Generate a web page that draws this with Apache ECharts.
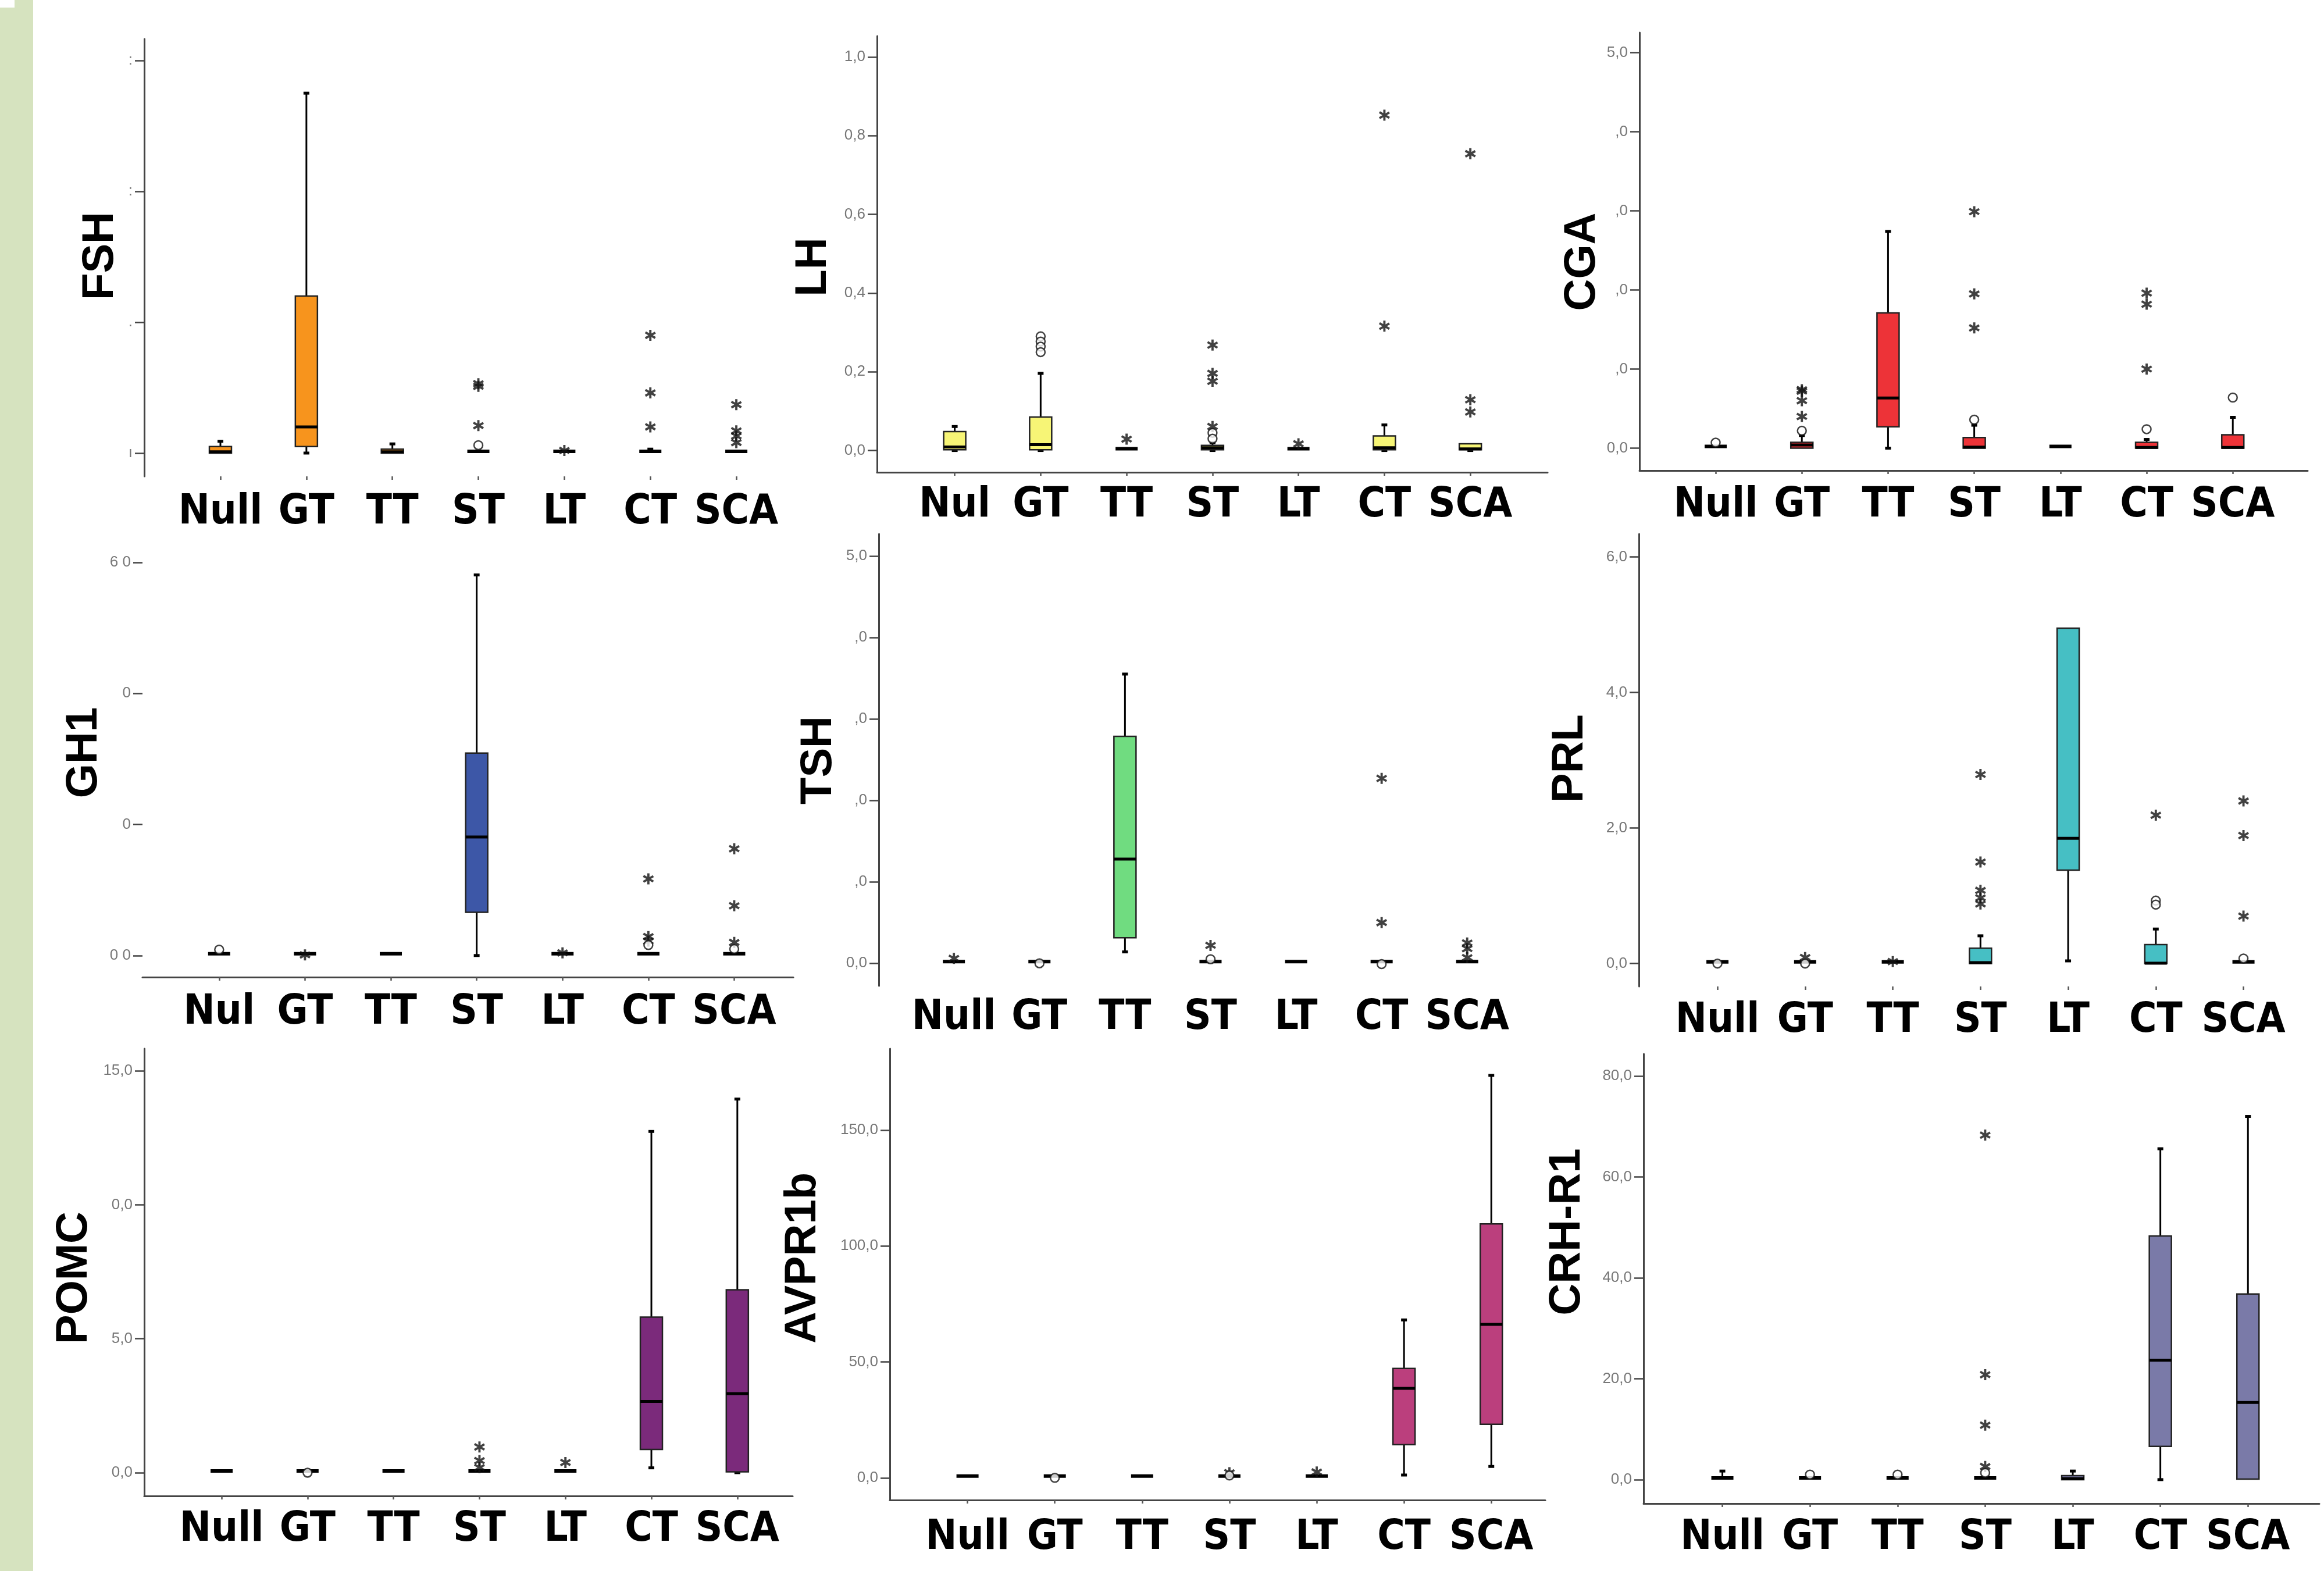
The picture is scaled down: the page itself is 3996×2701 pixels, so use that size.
<!DOCTYPE html>
<html>
<head>
<meta charset="utf-8">
<script src="https://cdn.jsdelivr.net/npm/echarts@6/dist/echarts.min.js"></script>
<style>
  html, body { margin: 0; padding: 0; background: #fff; }
  #chart { width: 3996px; height: 2701px; }
</style>
</head>
<body>
<div id="chart"></div>
<script>
// categories (two panels print "Nul")
var catsNull = ['Null', 'GT', 'TT', 'ST', 'LT', 'CT', 'SCA'];
var catsNul = ['Nul', 'GT', 'TT', 'ST', 'LT', 'CT', 'SCA'];

// each box: [min, q1, median, q3, max]; outliers: [category index, value]
var fshBoxes = [[0, 0, 0.01, 0.05, 0.09], [0, 0.05, 0.2, 1.2, 2.75], [0, 0, 0.01, 0.03, 0.07], [0, 0, 0, 0.012, 0.012],
    [0, 0, 0, 0.01, 0.01], [0, 0, 0, 0.012, 0.03], [0, 0, 0, 0.012, 0.012]];
var fshStars = [[3, 0.21], [3, 0.51], [3, 0.53], [4, 0.02], [5, 0.9], [5, 0.46], [5, 0.2], [6, 0.37], [6, 0.17], [6, 0.13], [6, 0.08]];
var fshCircles = [[3, 0.06]];
var fshTicks = [0, 1, 2, 3];
var fshTickLabels = ['ı', '.', ':', ':'];

var lhBoxes = [[0, 0.002, 0.009, 0.048, 0.061], [0, 0.002, 0.015, 0.085, 0.196], [0, 0, 0.002, 0.004, 0.004], [0, 0.002, 0.007, 0.013, 0.02],
    [0, 0, 0.002, 0.004, 0.004], [0, 0.002, 0.007, 0.037, 0.065], [0, 0.002, 0.004, 0.017, 0.017]];
var lhStars = [[2, 0.029], [3, 0.268], [3, 0.196], [3, 0.176], [3, 0.061], [4, 0.017], [5, 0.852], [5, 0.316], [6, 0.754], [6, 0.129], [6, 0.098]];
var lhCircles = [[1, 0.29], [1, 0.277], [1, 0.264], [1, 0.25], [3, 0.045], [3, 0.03]];
var lhTicks = [0, 0.2, 0.4, 0.6, 0.8, 1.0];
var lhTickLabels = ['0,0', '0,2', '0,4', '0,6', '0,8', '1,0'];

var cgaBoxes = [[0, 0, 0.005, 0.035, 0.035], [0, 0, 0.04, 0.073, 0.16], [0, 0.27, 0.635, 1.71, 2.74], [0, 0, 0.013, 0.134, 0.29],
    [0, 0, 0.01, 0.04, 0.04], [0, 0, 0.01, 0.073, 0.11], [0, 0, 0.01, 0.17, 0.39]];
var cgaStars = [[1, 0.4], [1, 0.6], [1, 0.72], [1, 0.74], [3, 2.99], [3, 1.95], [3, 1.52], [5, 1.0], [5, 1.82], [5, 1.96]];
var cgaCircles = [[0, 0.07], [1, 0.22], [3, 0.36], [5, 0.24], [6, 0.64]];
var cgaTicks = [0, 1, 2, 3, 4, 5];
var cgaTickLabels = ['0,0', ',0', ',0', ',0', ',0', '5,0'];

var gh1Boxes = [[0, 0, 0.005, 0.03, 0.03], [0, 0, 0, 0.02, 0.02], [0, 0, 0.005, 0.03, 0.03], [0, 0.66, 1.81, 3.09, 5.81],
    [0, 0, 0, 0.02, 0.02], [0, 0, 0.005, 0.03, 0.03], [0, 0, 0.005, 0.03, 0.03]];
var gh1Stars = [[1, 0.01], [4, 0.04], [5, 1.17], [5, 0.29], [5, 0.22], [6, 1.63], [6, 0.76], [6, 0.2]];
var gh1Circles = [[0, 0.09], [5, 0.16], [6, 0.1]];
var gh1Ticks = [0, 2, 4, 6];
var gh1TickLabels = ['0 0', '0', '0', '6 0'];

var tshBoxes = [[0, 0, 0, 0.02, 0.02], [0, 0, 0, 0.02, 0.02], [0.14, 0.314, 1.28, 2.785, 3.55], [0, 0, 0, 0.02, 0.02],
    [0, 0, 0, 0.02, 0.02], [0, 0, 0, 0.02, 0.02], [0, 0, 0, 0.02, 0.02]];
var tshStars = [[0, 0.06], [3, 0.22], [5, 2.27], [5, 0.5], [6, 0.25], [6, 0.18], [6, 0.07]];
var tshCircles = [[1, 0.0], [3, 0.05], [5, -0.01]];
var tshTicks = [0, 1, 2, 3, 4, 5];
var tshTickLabels = ['0,0', ',0', ',0', ',0', ',0', '5,0'];

var prlBoxes = [[0, 0, 0, 0.02, 0.02], [0, 0, 0, 0.02, 0.02], [0, 0, 0, 0.015, 0.015], [0, 0, 0.015, 0.226, 0.41],
    [0.04, 1.38, 1.85, 4.95, 4.95], [0, 0, 0.005, 0.28, 0.51], [0, 0, 0, 0.02, 0.02]];
var prlStars = [[1, 0.09], [2, 0.03], [3, 2.79], [3, 1.5], [3, 1.08], [3, 0.97], [3, 0.88], [5, 2.19], [6, 2.4], [6, 1.89], [6, 0.7]];
var prlCircles = [[0, 0.0], [1, 0.0], [5, 0.93], [5, 0.87], [6, 0.075]];
var prlTicks = [0, 2, 4, 6];
var prlTickLabels = ['0,0', '2,0', '4,0', '6,0'];

var pomcBoxes = [[0, 0, 0, 0.05, 0.05], [0, 0, 0, 0.05, 0.05], [0, 0, 0, 0.05, 0.05], [0, 0, 0, 0.05, 0.05],
    [0, 0, 0, 0.05, 0.05], [0.18, 0.87, 2.66, 5.81, 12.74], [0, 0.03, 2.95, 6.83, 13.95]];
var pomcStars = [[3, 0.96], [3, 0.45], [3, 0.19], [4, 0.38]];
var pomcCircles = [[1, 0.0]];
var pomcTicks = [0, 5, 10, 15];
var pomcTickLabels = ['0,0', '5,0', '0,0', '15,0'];

var avprBoxes = [[0, 0, 0, 0.5, 0.5], [0, 0, 0, 0.5, 0.5], [0, 0, 0, 0.5, 0.5], [0, 0, 0, 0.5, 0.5],
    [0, 0, 0, 0.5, 0.5], [1.2, 14.3, 38.6, 47.2, 68.1], [4.9, 23.1, 66.2, 109.5, 173.6]];
var avprStars = [[3, 2.2], [4, 2.5]];
var avprCircles = [[1, 0.0], [3, 1.0]];
var avprTicks = [0, 50, 100, 150];
var avprTickLabels = ['0,0', '50,0', '100,0', '150,0'];

var crhBoxes = [[0, 0, 0.2, 0.68, 1.7], [0, 0, 0, 0.3, 0.3], [0, 0, 0, 0.3, 0.3], [0, 0, 0, 0.3, 0.3],
    [0, 0, 0.2, 0.8, 1.7], [0, 6.6, 23.7, 48.3, 65.6], [0, 0.1, 15.3, 36.8, 72]];
var crhStars = [[3, 2.6], [3, 10.8], [3, 20.8], [3, 68.3]];
var crhCircles = [[1, 1.0], [2, 1.0], [3, 1.35]];
var crhTicks = [0, 20, 40, 60, 80];
var crhTickLabels = ['0,0', '20,0', '40,0', '60,0', '80,0'];

// asterisk used by SPSS for extreme values
var starPath = 'path://M40,0L60,0L60,100L40,100Z M11.2,14.6L99.1,65.4L88.8,82.8L0.9,32.0Z M0.9,68.0L88.8,17.2L99.1,34.6L11.2,85.4Z';

// layout of each panel (pixel positions of the axis box)
var panels = [
    {name: 'FSH', cats: catsNull, boxes: fshBoxes, stars: fshStars, circles: fshCircles, ticks: fshTicks, tickLabels: fshTickLabels,
        color: '#f7941d', left: 248, top: 67, width: 1092, height: 752, xMin: -0.886, xMax: 6.5, yMin: -0.178, yMax: 3.164,
        yLine: true, xLine: false, xTicks: true, margin: 26, nameX: 173, nameY: 440},
    {name: 'LH', cats: catsNul, boxes: lhBoxes, stars: lhStars, circles: lhCircles, ticks: lhTicks, tickLabels: lhTickLabels,
        color: '#f7f576', left: 1508, top: 62, width: 1153, height: 750, xMin: -0.904, xMax: 6.899, yMin: -0.0553, yMax: 1.053,
        yLine: true, xLine: true, xTicks: true, margin: 21, nameX: 1399, nameY: 459},
    {name: 'CGA', cats: catsNull, boxes: cgaBoxes, stars: cgaStars, circles: cgaCircles, ticks: cgaTicks, tickLabels: cgaTickLabels,
        color: '#ed3338', left: 2819, top: 56, width: 1149, height: 753, xMin: -0.884, xMax: 6.869, yMin: -0.283, yMax: 5.254,
        yLine: true, xLine: true, xTicks: true, margin: 24, nameX: 2721, nameY: 450},
    {name: 'GH1', cats: catsNul, boxes: gh1Boxes, stars: gh1Stars, circles: gh1Circles, ticks: gh1Ticks, tickLabels: gh1TickLabels,
        color: '#3d57a7', left: 245, top: 940, width: 1119, height: 740, xMin: -0.893, xMax: 6.688, yMin: -0.33, yMax: 6.24,
        yLine: false, xLine: true, xTicks: true, margin: 25, nameX: 145, nameY: 1294},
    {name: 'TSH', cats: catsNull, boxes: tshBoxes, stars: tshStars, circles: tshCircles, ticks: tshTicks, tickLabels: tshTickLabels,
        color: '#70dc80', left: 1511, top: 918, width: 1100, height: 777, xMin: -0.878, xMax: 6.6, yMin: -0.277, yMax: 5.27,
        yLine: true, xLine: false, xTicks: false, margin: 19, nameX: 1408, nameY: 1307},
    {name: 'PRL', cats: catsNull, boxes: prlBoxes, stars: prlStars, circles: prlCircles, ticks: prlTicks, tickLabels: prlTickLabels,
        color: '#46bfc4', left: 2818, top: 918, width: 1130, height: 778, xMin: -0.896, xMax: 6.6, yMin: -0.3375, yMax: 6.34,
        yLine: true, xLine: false, xTicks: true, margin: 23, nameX: 2700, nameY: 1304},
    {name: 'POMC', cats: catsNull, boxes: pomcBoxes, stars: pomcStars, circles: pomcCircles, ticks: pomcTicks, tickLabels: pomcTickLabels,
        color: '#7b2a7b', left: 248, top: 1803, width: 1115, height: 769, xMin: -0.9, xMax: 6.644, yMin: -0.87, yMax: 15.83,
        yLine: true, xLine: true, xTicks: true, margin: 22, nameX: 128, nameY: 2197},
    {name: 'AVPR1b', cats: catsNull, boxes: avprBoxes, stars: avprStars, circles: avprCircles, ticks: avprTicks, tickLabels: avprTickLabels,
        color: '#bb3f7d', left: 1530, top: 1803, width: 1127, height: 776, xMin: -0.89, xMax: 6.618, yMin: -9.59, yMax: 185.1,
        yLine: true, xLine: true, xTicks: true, margin: 29, nameX: 1381, nameY: 2163},
    {name: 'CRH-R1', cats: catsNull, boxes: crhBoxes, stars: crhStars, circles: crhCircles, ticks: crhTicks, tickLabels: crhTickLabels,
        color: '#7a7aa8', left: 2826, top: 1812, width: 1162, height: 773, xMin: -0.9, xMax: 6.815, yMin: -4.74, yMax: 84.4,
        yLine: true, xLine: true, xTicks: true, margin: 23, nameX: 2695, nameY: 2118}
];

function boxRender(color) {
    return function (params, api) {
        var i = api.value(0);
        var lo = api.coord([i, api.value(1)]);
        var q1 = api.coord([i, api.value(2)]);
        var md = api.coord([i, api.value(3)]);
        var q3 = api.coord([i, api.value(4)]);
        var hi = api.coord([i, api.value(5)]);
        var x = lo[0], w = 38, cap = 10;
        var kids = [];
        if (q3[1] - hi[1] > 1) {
            kids.push({type: 'line', shape: {x1: x, y1: hi[1], x2: x, y2: q3[1]}, style: {stroke: '#000', lineWidth: 3}});
            kids.push({type: 'line', shape: {x1: x - cap / 2, y1: hi[1], x2: x + cap / 2, y2: hi[1]}, style: {stroke: '#000', lineWidth: 5}});
        }
        if (lo[1] - q1[1] > 1) {
            kids.push({type: 'line', shape: {x1: x, y1: q1[1], x2: x, y2: lo[1]}, style: {stroke: '#000', lineWidth: 3}});
            kids.push({type: 'line', shape: {x1: x - cap / 2, y1: lo[1], x2: x + cap / 2, y2: lo[1]}, style: {stroke: '#000', lineWidth: 5}});
        }
        var h = q1[1] - q3[1];
        if (h < 6) {
            kids.push({type: 'rect', shape: {x: x - w / 2, y: q1[1] - 6, width: w, height: 6}, style: {fill: '#000'}});
        } else {
            kids.push({type: 'rect', shape: {x: x - w / 2, y: q3[1], width: w, height: h}, style: {fill: color, stroke: '#222', lineWidth: 2.5}});
            kids.push({type: 'line', shape: {x1: x - w / 2, y1: md[1], x2: x + w / 2, y2: md[1]}, style: {stroke: '#000', lineWidth: 5}});
        }
        return {type: 'group', children: kids};
    };
}

var grids = [], xAxes = [], yAxes = [], series = [], texts = [];
panels.forEach(function (p, k) {
    grids.push({left: p.left, top: p.top, width: p.width, height: p.height, containLabel: false});
    xAxes.push({
        type: 'value', gridIndex: k, min: p.xMin, max: p.xMax,
        axisLine: {show: p.xLine, onZero: false, lineStyle: {color: '#444', width: 3}},
        axisTick: {show: p.xTicks, customValues: [0, 1, 2, 3, 4, 5, 6], length: 6, lineStyle: {color: '#555', width: 2.5}},
        splitLine: {show: false},
        axisLabel: {
            customValues: [0, 1, 2, 3, 4, 5, 6], margin: p.margin,
            fontFamily: 'DejaVu Sans Condensed, Liberation Sans, Arial, sans-serif', fontWeight: 'bold', fontSize: 72, lineHeight: 72, color: '#000',
            formatter: (function (cats) { return function (v) { return cats[Math.round(v)]; }; })(p.cats)
        }
    });
    yAxes.push({
        type: 'value', gridIndex: k, min: p.yMin, max: p.yMax,
        axisLine: {show: p.yLine, onZero: false, lineStyle: {color: '#444', width: 3}},
        axisTick: {show: true, customValues: p.ticks, length: 16, lineStyle: {color: '#444', width: 2.5}},
        splitLine: {show: false},
        axisLabel: {
            customValues: p.ticks, margin: 20, fontSize: 26, color: '#777',
            fontFamily: 'Liberation Sans Narrow, Liberation Sans, Arial, sans-serif',
            formatter: (function (t, l) { return function (v) { return l[t.indexOf(v)]; }; })(p.ticks, p.tickLabels)
        }
    });
    series.push({
        type: 'custom', xAxisIndex: k, yAxisIndex: k, clip: false,
        renderItem: boxRender(p.color),
        encode: {x: 0, y: [1, 2, 3, 4, 5]},
        data: p.boxes.map(function (b, i) { return [i].concat(b); })
    });
    series.push({
        type: 'scatter', xAxisIndex: k, yAxisIndex: k, symbol: starPath, symbolSize: 19,
        itemStyle: {color: '#111'}, data: p.stars, z: 5
    });
    series.push({
        type: 'scatter', xAxisIndex: k, yAxisIndex: k, symbol: 'circle', symbolSize: 15,
        itemStyle: {color: '#fff', borderColor: '#111', borderWidth: 2.5}, data: p.circles, z: 5
    });
    texts.push({
        type: 'text', x: p.nameX, y: p.nameY, rotation: Math.PI / 2,
        style: {text: p.name, fontFamily: 'Liberation Sans, Arial, sans-serif', fontWeight: 'bold', fontSize: 76,
            fill: '#000', align: 'center', verticalAlign: 'middle'}
    });
});

var myChart = echarts.init(document.getElementById('chart'));
myChart.setOption({
    backgroundColor: '#fff',
    animation: false,
    graphic: {
        elements: [
            {type: 'rect', shape: {x: 0, y: 0, width: 57, height: 2701}, style: {fill: '#d6e3bf'}},
            {type: 'rect', shape: {x: 0, y: 0, width: 25, height: 13}, style: {fill: '#fff'}}
        ].concat(texts)
    },
    grid: grids,
    xAxis: xAxes,
    yAxis: yAxes,
    series: series
});
</script>
</body>
</html>
